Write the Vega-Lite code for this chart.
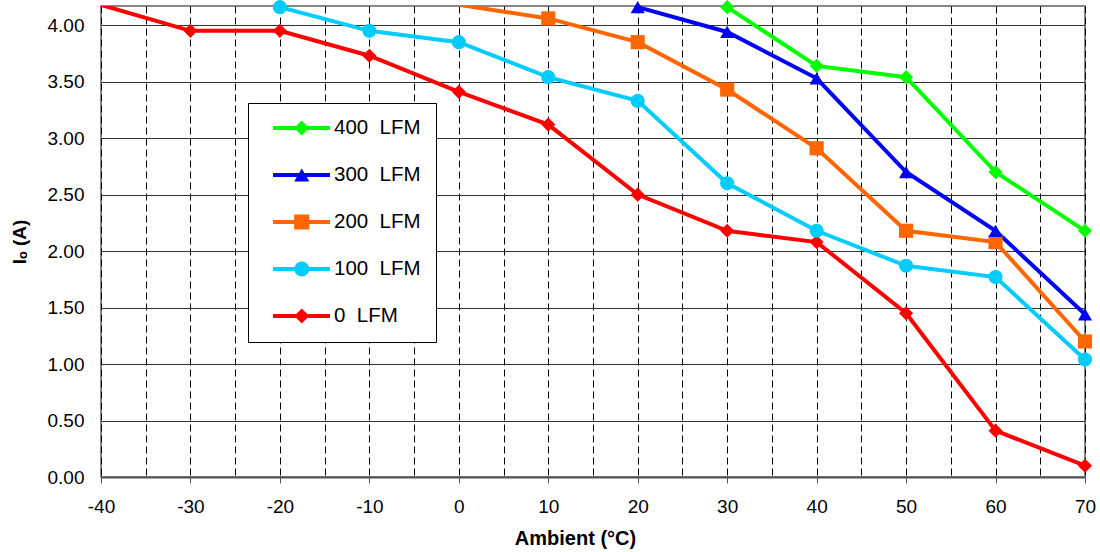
{
  "$schema": "https://vega.github.io/schema/vega-lite/v6.json",
  "width": 984,
  "height": 471,
  "autosize": {"type": "none"},
  "padding": {"left": 101, "top": 6, "right": 15, "bottom": 75},
  "background": "white",
  "config": {
    "font": "Liberation Sans",
    "view": {"stroke": "#888888", "strokeWidth": 2},
    "axis": {"labelFont": "Liberation Sans", "titleFont": "Liberation Sans", "labelColor": "black", "titleColor": "black"}
  },
  "data": {
    "values": [
      {"series": "0  LFM", "ambient": -40, "io": 4.18},
      {"series": "0  LFM", "ambient": -30, "io": 3.95},
      {"series": "0  LFM", "ambient": -20, "io": 3.95},
      {"series": "0  LFM", "ambient": -10, "io": 3.73},
      {"series": "0  LFM", "ambient": 0, "io": 3.41},
      {"series": "0  LFM", "ambient": 10, "io": 3.12},
      {"series": "0  LFM", "ambient": 20, "io": 2.50},
      {"series": "0  LFM", "ambient": 30, "io": 2.18},
      {"series": "0  LFM", "ambient": 40, "io": 2.08},
      {"series": "0  LFM", "ambient": 50, "io": 1.45},
      {"series": "0  LFM", "ambient": 60, "io": 0.41},
      {"series": "0  LFM", "ambient": 70, "io": 0.10},
      {"series": "100  LFM", "ambient": -20, "io": 4.16},
      {"series": "100  LFM", "ambient": -10, "io": 3.95},
      {"series": "100  LFM", "ambient": 0, "io": 3.85},
      {"series": "100  LFM", "ambient": 10, "io": 3.54},
      {"series": "100  LFM", "ambient": 20, "io": 3.33},
      {"series": "100  LFM", "ambient": 30, "io": 2.60},
      {"series": "100  LFM", "ambient": 40, "io": 2.18},
      {"series": "100  LFM", "ambient": 50, "io": 1.87},
      {"series": "100  LFM", "ambient": 60, "io": 1.77},
      {"series": "100  LFM", "ambient": 70, "io": 1.04},
      {"series": "200  LFM", "ambient": 0, "io": 4.18},
      {"series": "200  LFM", "ambient": 10, "io": 4.06},
      {"series": "200  LFM", "ambient": 20, "io": 3.85},
      {"series": "200  LFM", "ambient": 30, "io": 3.43},
      {"series": "200  LFM", "ambient": 40, "io": 2.91},
      {"series": "200  LFM", "ambient": 50, "io": 2.18},
      {"series": "200  LFM", "ambient": 60, "io": 2.08},
      {"series": "200  LFM", "ambient": 70, "io": 1.20},
      {"series": "300  LFM", "ambient": 20, "io": 4.16},
      {"series": "300  LFM", "ambient": 30, "io": 3.94},
      {"series": "300  LFM", "ambient": 40, "io": 3.53},
      {"series": "300  LFM", "ambient": 50, "io": 2.70},
      {"series": "300  LFM", "ambient": 60, "io": 2.18},
      {"series": "300  LFM", "ambient": 70, "io": 1.44},
      {"series": "400  LFM", "ambient": 30, "io": 4.16},
      {"series": "400  LFM", "ambient": 40, "io": 3.64},
      {"series": "400  LFM", "ambient": 50, "io": 3.54},
      {"series": "400  LFM", "ambient": 60, "io": 2.70},
      {"series": "400  LFM", "ambient": 70, "io": 2.18}
    ]
  },
  "encoding": {
    "x": {
      "field": "ambient", "type": "quantitative",
      "scale": {"domain": [-40, 70], "nice": false, "zero": false},
      "axis": {
        "title": "Ambient (°C)",
        "values": [-40, -35, -30, -25, -20, -15, -10, -5, 0, 5, 10, 15, 20, 25, 30, 35, 40, 45, 50, 55, 60, 65, 70],
        "labelExpr": "datum.value % 10 === 0 ? replace(datum.label, '−', '-') : ''",
        "labelFontSize": 19, "labelPadding": 14, "labelFlush": false, "labelOverlap": false,
        "tickSize": 6, "tickColor": "#555555", "tickWidth": 1,
        "tickOpacity": {"condition": {"test": "datum.value % 10 === 0", "value": 1}, "value": 0},
        "grid": true, "gridColor": "black", "gridDash": [7, 4], "gridWidth": 1,
        "domainColor": "#555555", "domainWidth": 2,
        "titleFontSize": 20, "titleFontWeight": "bold", "titleX": 474, "titleY": 67, "titleBaseline": "alphabetic"
      }
    },
    "y": {
      "field": "io", "type": "quantitative",
      "scale": {"domain": [0, 4.17], "nice": false},
      "axis": {
        "title": "Iₒ (A)",
        "values": [0, 0.5, 1, 1.5, 2, 2.5, 3, 3.5, 4],
        "format": ".2f",
        "labelFontSize": 19, "labelPadding": 17,
        "ticks": false, "domain": false,
        "grid": true, "gridColor": "#333333", "gridWidth": 1,
        "titleFontSize": 19, "titleFontWeight": "bold", "titleX": -82, "titleBaseline": "middle"
      }
    }
  },
  "resolve": {
    "scale": {"color": "independent", "shape": "independent"},
    "legend": {"color": "independent", "shape": "independent"}
  },
  "layer": [
    {
      "mark": {"type": "line", "strokeWidth": 4, "clip": true},
      "encoding": {
        "order": {"field": "ambient"},
        "color": {
          "field": "series", "type": "nominal",
          "scale": {
            "domain": ["400  LFM", "300  LFM", "200  LFM", "100  LFM", "0  LFM"],
            "range": ["#00FF00", "#0000FF", "#FF6600", "#00CCFF", "#FF0000"]
          },
          "legend": {
            "title": null, "orient": "none", "legendX": 147, "legendY": 97,
            "fillColor": "white", "strokeColor": "black", "padding": 15,
            "labelFont": "Liberation Sans", "labelFontSize": 20.5, "labelColor": "black",
            "labelExpr": "replace(datum.label, '  ', '\u00a0\u00a0') + '\u00a0\u00a0\u00a0\u00a0\u00a0'",
            "rowPadding": 26, "clipHeight": 20,
            "symbolType": "stroke", "symbolSize": 3249, "symbolStrokeWidth": 4,
            "symbolOffset": 8, "labelOffset": 2
          }
        }
      }
    },
    {
      "transform": [{"filter": "datum.io <= 4.17"}],
      "mark": {"type": "point", "filled": true, "size": 200, "opacity": 1, "clip": false},
      "encoding": {
        "color": {
          "field": "series", "type": "nominal",
          "scale": {
            "domain": ["400  LFM", "300  LFM", "200  LFM", "100  LFM", "0  LFM"],
            "range": ["#00FF00", "#0000FF", "#FF6600", "#00CCFF", "#FF0000"]
          },
          "legend": {
            "title": null, "orient": "none", "legendX": 147, "legendY": 97,
            "fillColor": "transparent", "strokeColor": "transparent", "padding": 15,
            "labelFontSize": 20.5, "labelExpr": "''",
            "rowPadding": 26, "clipHeight": 20,
            "symbolSize": 230, "symbolStrokeWidth": 0, "symbolOpacity": 1,
            "symbolOffset": 28.5, "labelOffset": 0
          }
        },
        "shape": {
          "field": "series", "type": "nominal",
          "scale": {
            "domain": ["400  LFM", "300  LFM", "200  LFM", "100  LFM", "0  LFM"],
            "range": ["diamond", "triangle-up", "square", "circle", "diamond"]
          },
          "legend": {"symbolSize": 230}
        }
      }
    }
  ]
}
